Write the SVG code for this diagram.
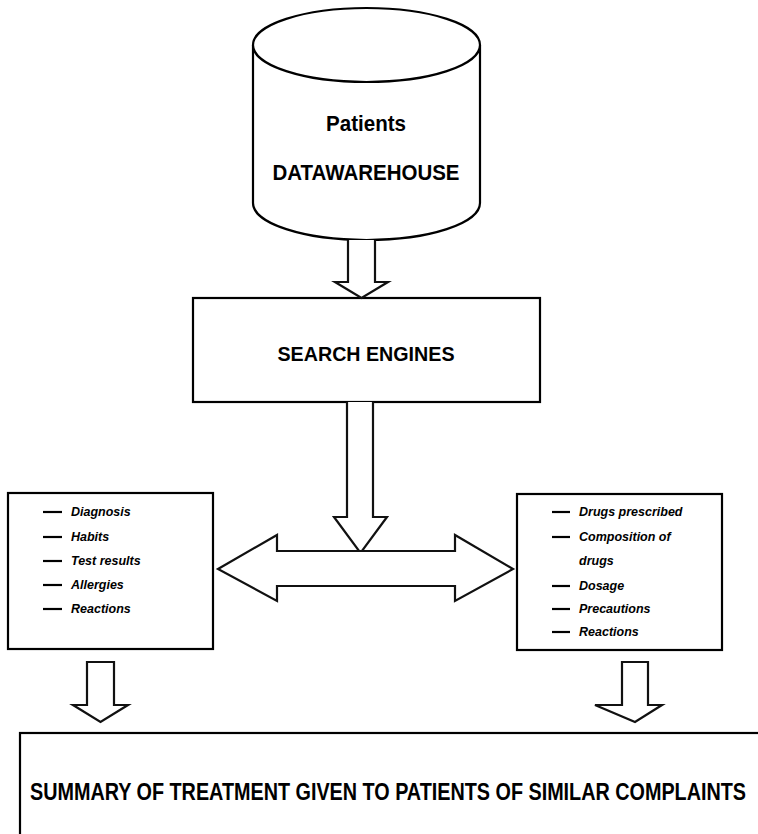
<svg xmlns="http://www.w3.org/2000/svg" width="758" height="834" viewBox="0 0 758 834">
<style>
.ln{fill:#fff;stroke:#000;stroke-width:2.2;stroke-linejoin:miter}
.ar{fill:#fff;stroke:#111;stroke-width:2.2;stroke-linejoin:miter}
.t{font-family:"Liberation Sans",Arial,sans-serif;font-weight:bold;fill:#000}
.it{font-family:"Liberation Sans",Arial,sans-serif;font-weight:bold;font-style:italic;font-size:12.5px;fill:#000}
.d{stroke:#000;stroke-width:2.2}
</style>
<rect width="758" height="834" fill="#fff"/>
<g id="warehouse">
<path class="ln" d="M253,45 L253,203 A113.5,37 0 0 0 480,203 L480,45"/>
<ellipse class="ln" cx="366.5" cy="45" rx="113.5" ry="37"/>
<text class="t" x="366" y="131" font-size="22" text-anchor="middle" textLength="80" lengthAdjust="spacingAndGlyphs">Patients</text>
<text class="t" x="366" y="180" font-size="22" text-anchor="middle" textLength="187" lengthAdjust="spacingAndGlyphs">DATAWAREHOUSE</text>
</g>
<g id="search">
<rect class="ln" x="193" y="298" width="347" height="104"/>
<text class="t" x="366" y="361" font-size="21" text-anchor="middle" textLength="177" lengthAdjust="spacingAndGlyphs">SEARCH ENGINES</text>
</g>
<g id="patient-info">
<rect class="ln" x="8" y="493" width="205" height="156"/>
<line class="d" x1="43" y1="512" x2="62" y2="512"/>
<line class="d" x1="43" y1="537" x2="62" y2="537"/>
<line class="d" x1="43" y1="561" x2="62" y2="561"/>
<line class="d" x1="43" y1="585" x2="62" y2="585"/>
<line class="d" x1="43" y1="609" x2="62" y2="609"/>
<text class="it" x="71" y="516">Diagnosis</text>
<text class="it" x="71" y="541">Habits</text>
<text class="it" x="71" y="565">Test results</text>
<text class="it" x="71" y="589">Allergies</text>
<text class="it" x="71" y="613">Reactions</text>
</g>
<g id="drug-info">
<rect class="ln" x="517" y="494" width="205" height="156"/>
<line class="d" x1="552" y1="512" x2="570" y2="512"/>
<line class="d" x1="552" y1="537" x2="570" y2="537"/>
<line class="d" x1="552" y1="586" x2="570" y2="586"/>
<line class="d" x1="552" y1="609" x2="570" y2="609"/>
<line class="d" x1="552" y1="632" x2="570" y2="632"/>
<text class="it" x="579" y="516">Drugs prescribed</text>
<text class="it" x="579" y="541">Composition of</text>
<text class="it" x="579" y="565">drugs</text>
<text class="it" x="579" y="590">Dosage</text>
<text class="it" x="579" y="613">Precautions</text>
<text class="it" x="579" y="636">Reactions</text>
</g>
<g id="summary">
<rect class="ln" x="20" y="733" width="760" height="130"/>
<text class="t" x="30" y="800" font-size="24" textLength="716" lengthAdjust="spacingAndGlyphs">SUMMARY OF TREATMENT GIVEN TO PATIENTS OF SIMILAR COMPLAINTS</text>
</g>
<g id="connectors">
<path class="ar" d="M348,240 L348,282 L335,282 L361.5,298 L388,282 L375,282 L375,240"/>
<path class="ar" d="M347,402 L347,517 L334,517 L360.5,553 L387,517 L373,517 L373,402"/>
<path class="ar" d="M218,569 L277,535 L277,551 L455,551 L455,535 L513,569 L455,601 L455,586 L277,586 L277,601 Z"/>
<path class="ar" d="M87,662 L87,705 L73,705 L100.5,722 L128,705 L114,705 L114,662 Z"/>
<path class="ar" d="M622,662 L622,705 L595,705 L635,722 L662,705 L648,705 L648,662 Z"/>
</g>
</svg>
